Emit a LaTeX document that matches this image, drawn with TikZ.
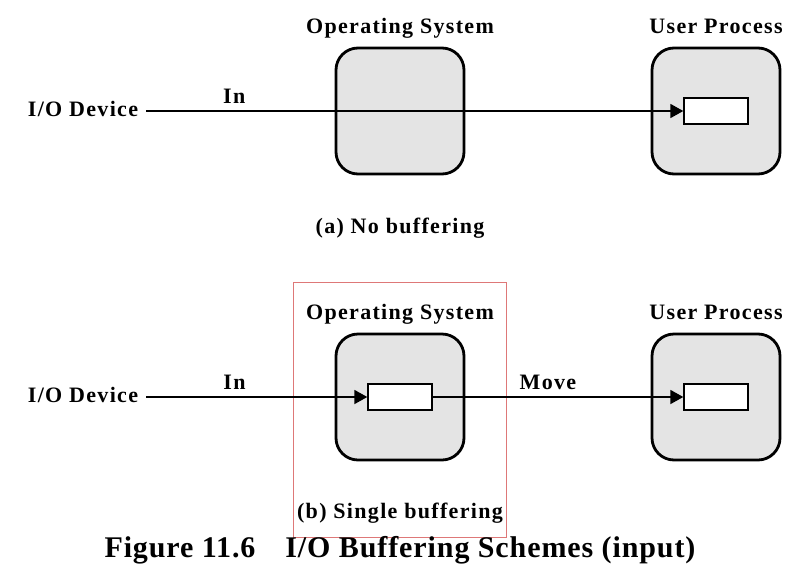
\documentclass[tikz,border=0pt]{standalone}
\usepackage{fontspec}
\setmainfont{Liberation Serif}[LetterSpace=6]
\newfontfamily\capfont{Liberation Serif}[LetterSpace=3]
\usetikzlibrary{arrows.meta,positioning}
\definecolor{boxgray}{RGB}{228,228,228}
\definecolor{framered}{RGB}{222,120,120}
\begin{document}
\begin{tikzpicture}[->,>={Triangle[length=13pt,width=14pt]},x=1pt,y=-1pt,line width=1.8pt,
    every node/.style={font=\fontsize{22}{26}\selectfont\bfseries},
    lab/.style={text height=15pt,text depth=5pt},
    proc/.style={draw,line width=2.8pt,rounded corners=22pt,fill=boxgray,minimum width=128pt,minimum height=126pt},
    buf/.style={draw,line width=1.4pt,fill=white,minimum width=64pt,minimum height=26pt,inner sep=0pt}]
    \useasboundingbox (0,0) rectangle (808,584);
    % (a) no buffering
    \node[lab] (dev1) at (83,111) {I/O Device};
    \node[proc] (os1) at (400,111) {};
    \node[proc] (up1) at (716,111) {};
    \node[buf] (ub1) at (716,111) {};
    \node[lab,above=4pt of os1] (osl1) {Operating System};
    \node[lab,above=4pt of up1] (upl1) {User Process};
    \draw[shorten <=4pt] (dev1.east) -- node[above=3pt,pos=0.17] {In} (ub1.west);
    \node (capa) at (400,228) {(a) No buffering};
    % (b) single buffering
    \node[draw=framered,line width=0.8pt,minimum width=213pt,minimum height=255pt] (frame) at (399.5,409.5) {};
    \node[lab] (dev2) at (83,397) {I/O Device};
    \node[proc] (os2) at (400,397) {};
    \node[proc] (up2) at (716,397) {};
    \node[buf] (ob2) at (400,397) {};
    \node[buf] (ub2) at (716,397) {};
    \node[lab,above=4pt of os2] (osl2) {Operating System};
    \node[lab,above=4pt of up2] (upl2) {User Process};
    \draw[shorten <=4pt] (dev2.east) -- node[above=3pt,pos=0.41] {In} (ob2.west);
    \draw (ob2) -- node[above=3pt,pos=0.46] {Move} (ub2.west);
    \node (capb) at (400,513) {(b) Single buffering};
    \node[font=\fontsize{30}{34}\capfont\bfseries] (fig) at (400,550) {Figure 11.6\hspace{30pt}I/O Buffering Schemes (input)};
\end{tikzpicture}
\end{document}
